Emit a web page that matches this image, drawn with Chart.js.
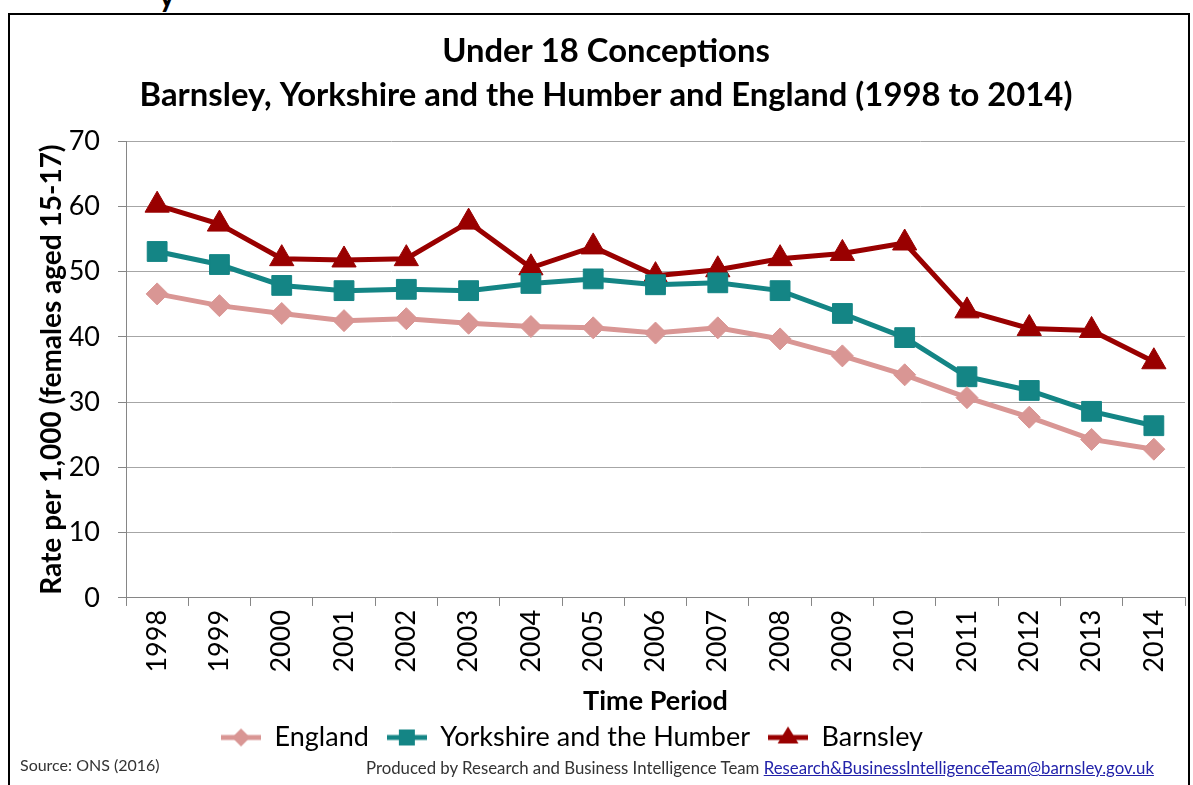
<!DOCTYPE html>
<html>
<head>
<meta charset="utf-8">
<script src="https://cdn.jsdelivr.net/npm/chart.js@4.4.1/dist/chart.umd.min.js"></script>
<style>
  html, body { margin: 0; padding: 0; background: #fff; }
  body { width: 1193px; height: 785px; position: relative; overflow: hidden; font-family: Lato, "Liberation Sans", sans-serif; }
  #frame { position: absolute; left: 8px; top: 13px; width: 1182px; height: 790px; border: 2px solid #000; box-sizing: border-box; }
  #wrap { position: absolute; left: 0; top: 0; width: 1200px; height: 785px; }
  .foot { position: absolute; color: #333; white-space: nowrap; }
  .foot a { color: #2222aa; text-decoration: underline; }
  #cut { position: absolute; left: 159px; top: -23px; font-size: 30px; font-weight: bold; color: #000; }
</style>
</head>
<body>
<div id="cut">y</div>
<div id="frame"></div>
<div id="wrap"><canvas id="c" width="1200" height="785"></canvas></div>
<div class="foot" style="left:20px; top:755px; font-size:16px;">Source: ONS (2016)</div>
<div class="foot" style="left:366px; top:757px; font-size:16.8px;">Produced by Research and Business Intelligence Team <a>Research&amp;BusinessIntelligenceTeam@barnsley.gov.uk</a></div>
<script>
const years = ['1998','1999','2000','2001','2002','2003','2004','2005','2006','2007','2008','2009','2010','2011','2012','2013','2014'];
const england = [46.6, 44.8, 43.6, 42.5, 42.8, 42.1, 41.6, 41.4, 40.6, 41.4, 39.7, 37.1, 34.2, 30.7, 27.7, 24.3, 22.8];
const yorkshire = [53.1, 51.1, 47.9, 47.1, 47.3, 47.1, 48.2, 48.9, 48.0, 48.3, 47.1, 43.6, 39.9, 33.9, 31.8, 28.6, 26.4];
const barnsley = [60.2, 57.3, 52.0, 51.8, 52.0, 57.6, 50.6, 53.8, 49.4, 50.3, 52.0, 52.8, 54.4, 44.0, 41.3, 41.0, 36.2];
const yTicks = [0, 10, 20, 30, 40, 50, 60, 70];

const C_ENG = '#D99694';
const C_YH = '#148585';
const C_BAR = '#990000';

function legendIcon(color, style) {
  const W = 40, H = 26, cx = 20, cy = 13;
  const cv = document.createElement('canvas');
  cv.width = W; cv.height = H;
  const ctx = cv.getContext('2d');
  ctx.strokeStyle = color; ctx.fillStyle = color; ctx.lineWidth = 5;
  ctx.beginPath(); ctx.moveTo(0, cy); ctx.lineTo(W, cy); ctx.stroke();
  ctx.beginPath();
  if (style === 'rectRot') {
    const r = 9;
    ctx.moveTo(cx, cy - r); ctx.lineTo(cx + r, cy); ctx.lineTo(cx, cy + r); ctx.lineTo(cx - r, cy);
  } else if (style === 'rect') {
    const r = 8;
    ctx.rect(cx - r, cy - r, 2 * r, 2 * r);
  } else {
    const r = 11;
    ctx.moveTo(cx, cy - r); ctx.lineTo(cx + r * 0.95, cy + r * 0.55); ctx.lineTo(cx - r * 0.95, cy + r * 0.55);
  }
  ctx.closePath(); ctx.fill();
  return cv;
}

const ds = (label, data, color, style, radius) => ({
  label, data,
  borderColor: color, backgroundColor: color,
  pointBackgroundColor: color, pointBorderColor: color,
  pointStyle: style, pointRadius: radius, pointHoverRadius: radius,
  borderWidth: 5, pointBorderWidth: 1, tension: 0
});

const blockShift = {
  id: 'blockShift',
  afterLayout(chart) {
    chart.legend.left -= 45;
    chart.legend.right -= 45;
    chart.legend.top -= 11;
    chart.legend.bottom -= 11;
    chart.titleBlock.left -= 11;
    chart.titleBlock.right -= 11;
  }
};

new Chart(document.getElementById('c'), {
  type: 'line',
  plugins: [blockShift],
  data: {
    labels: years,
    datasets: [
      ds('England', england, C_ENG, 'rectRot', 11),
      ds('Yorkshire and the Humber', yorkshire, C_YH, 'rect', 14),
      ds('Barnsley', barnsley, C_BAR, 'triangle', 14)
    ]
  },
  options: {
    responsive: false,
    animation: false,
    devicePixelRatio: 1,
    layout: { padding: { left: 35, right: 1, top: 0, bottom: 13 } },
    plugins: {
      tooltip: { enabled: false },
      title: {
        display: true,
        text: ['Under 18 Conceptions', 'Barnsley, Yorkshire and the Humber and England (1998 to 2014)'],
        color: '#000',
        font: { family: 'Lato', size: 32.8, weight: 'bold', lineHeight: 1.36 },
        padding: { top: 29, bottom: 23 }
      },
      legend: {
        position: 'bottom',
        labels: {
          color: '#000',
          font: { family: 'Lato', size: 27 },
          usePointStyle: true,
          pointStyleWidth: 40,
          padding: 18,
          generateLabels: (chart) => chart.data.datasets.map((d, i) => ({
            text: d.label,
            pointStyle: legendIcon(d.borderColor, d.pointStyle),
            fillStyle: d.borderColor, strokeStyle: d.borderColor,
            lineWidth: 0, hidden: false, datasetIndex: i, fontColor: '#000'
          }))
        }
      }
    },
    scales: {
      x: {
        offset: true,
        grid: { offset: true, drawOnChartArea: false, color: '#868686', tickLength: 8, tickColor: '#868686' },
        border: { color: '#868686', width: 1 },
        ticks: { color: '#000', font: { family: 'Lato', size: 27 }, minRotation: 90, maxRotation: 90, padding: 4, autoSkip: false },
        title: { display: true, text: 'Time Period', color: '#000', font: { family: 'Lato', size: 27, weight: 'bold' }, padding: { top: 8, bottom: 0 } }
      },
      y: {
        min: 0, max: 70,
        afterBuildTicks: (axis) => { axis.ticks = yTicks.map(v => ({ value: v })); },
        afterFit: (scale) => { scale.width = 91; },
        grid: { color: '#a6a6a6', lineWidth: 1, tickLength: 8, tickColor: '#868686' },
        border: { color: '#868686', width: 1 },
        ticks: { color: '#000', font: { family: 'Lato', size: 27 }, padding: 18 },
        title: { display: true, text: 'Rate per 1,000 (females aged 15-17)', color: '#000', font: { family: 'Lato', size: 28, weight: 'bold' }, padding: { top: 0, bottom: 0 } }
      }
    }
  }
});
</script>
</body>
</html>
